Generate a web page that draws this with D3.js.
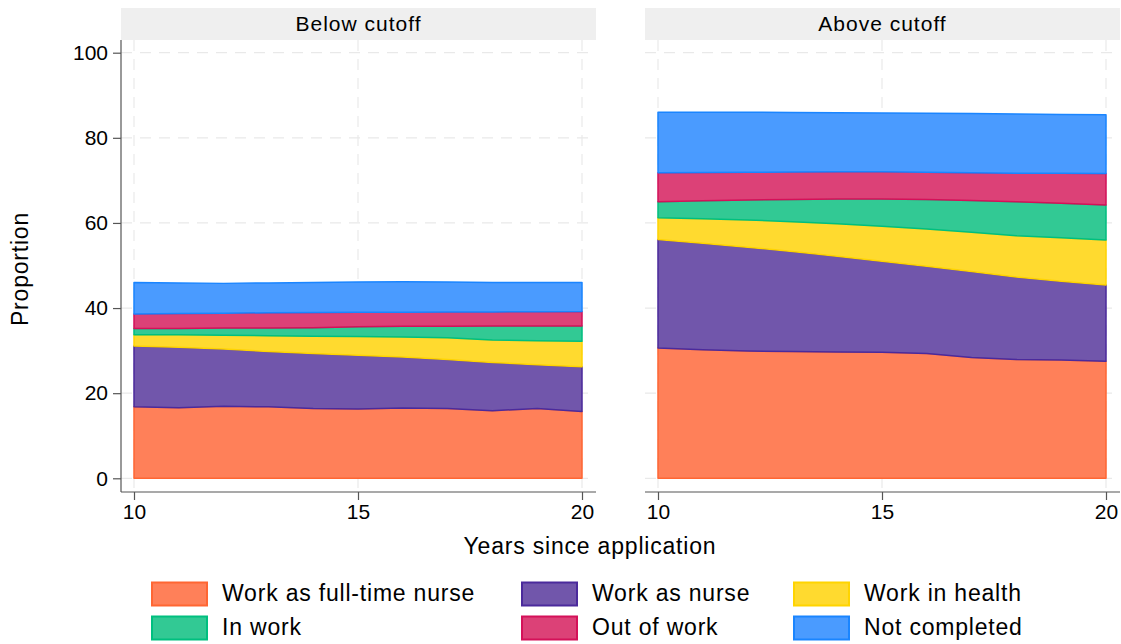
<!DOCTYPE html>
<html>
<head>
<meta charset="utf-8">
<script src="https://cdn.jsdelivr.net/npm/d3@7"></script>
<style>
  html, body { margin: 0; padding: 0; background: #fff; }
  svg { display: block; font-family: "Liberation Sans", Arial, Helvetica, sans-serif; }
</style>
</head>
<body>
<svg id="chart" width="1121" height="644"></svg>
<script>
// ---------------- data ----------------
const years = [10, 11, 12, 13, 14, 15, 16, 17, 18, 19, 20];
const seriesNames = ["Work as full-time nurse", "Work as nurse", "Work in health", "In work", "Out of work", "Not completed"];
const panelTitles = ["Below cutoff", "Above cutoff"];
const yTicks = [0, 20, 40, 60, 80, 100];
const xTicks = [10, 15, 20];

// Below cutoff (percent of applicants, per outcome)
const belowFullTimeNurse = [16.8, 16.6, 16.9, 16.8, 16.4, 16.3, 16.5, 16.4, 15.9, 16.4, 15.7];
const belowNurse         = [14.3, 14.2, 13.5, 13.0, 12.9, 12.6, 12.0, 11.5, 11.3, 10.3, 10.5];
const belowHealth        = [2.6, 2.9, 3.2, 3.7, 4.1, 4.4, 4.7, 5.1, 5.3, 5.6, 6.0];
const belowInWork        = [1.5, 1.5, 1.7, 1.8, 2.0, 2.3, 2.5, 2.7, 3.3, 3.5, 3.6];
const belowOutOfWork     = [3.4, 3.5, 3.5, 3.6, 3.55, 3.4, 3.3, 3.4, 3.3, 3.35, 3.4];
const belowNotCompleted  = [7.4, 7.2, 7.0, 7.0, 7.05, 7.1, 7.2, 7.0, 6.9, 6.85, 6.8];

// Above cutoff
const aboveFullTimeNurse = [30.6, 30.2, 29.9, 29.8, 29.7, 29.6, 29.3, 28.4, 27.9, 27.8, 27.5];
const aboveNurse         = [25.5, 25.0, 24.4, 23.5, 22.5, 21.4, 20.5, 20.2, 19.4, 18.5, 17.9];
const aboveHealth        = [5.1, 5.8, 6.4, 7.0, 7.6, 8.2, 8.8, 9.2, 9.7, 10.2, 10.6];
const aboveInWork        = [3.8, 4.2, 4.7, 5.2, 5.8, 6.4, 6.9, 7.5, 8.0, 8.1, 8.2];
const aboveOutOfWork     = [6.8, 6.65, 6.5, 6.45, 6.4, 6.4, 6.4, 6.5, 6.7, 7.05, 7.4];
const aboveNotCompleted  = [14.2, 14.15, 14.1, 14.0, 13.9, 13.85, 13.9, 13.9, 13.9, 13.85, 13.8];

const panelSeries = [
  [belowFullTimeNurse, belowNurse, belowHealth, belowInWork, belowOutOfWork, belowNotCompleted],
  [aboveFullTimeNurse, aboveNurse, aboveHealth, aboveInWork, aboveOutOfWork, aboveNotCompleted]
];

// ---------------- styles ----------------
const fills   = ["#FF8059", "#7156AB", "#FFDA2F", "#32C994", "#DC4177", "#4A9BFF"];
const strokes = ["#FF6633", "#4B2A9C", "#FFD400", "#00BF7F", "#D41159", "#1A85FF"];

const svg = d3.select("#chart");

const panelX = [[121, 596], [645, 1120]];
const plotTop = 40, plotBottom = 492;
const stripTop = 8;
const y = d3.scaleLinear().domain([0, 100]).range([478.3, 52.7]);

panelSeries.forEach((series, p) => {
  const [x0, x1] = panelX[p];
  const x = d3.scaleLinear().domain([10, 20]).range([x0 + 13, x1 - 14]);
  const g = svg.append("g");

  // strip
  g.append("rect").attr("x", x0).attr("y", stripTop).attr("width", x1 - x0).attr("height", plotTop - stripTop)
    .attr("fill", "#EFEFEF");
  g.append("text").attr("x", (x0 + x1) / 2).attr("y", (stripTop + plotTop) / 2 + 1)
    .attr("text-anchor", "middle").attr("dominant-baseline", "middle")
    .attr("font-size", 21).attr("letter-spacing", 1).attr("fill", "#000").text(panelTitles[p]);

  // gridlines
  g.append("g").selectAll("line").data(yTicks).join("line")
    .attr("x1", x0).attr("x2", x1).attr("y1", d => y(d)).attr("y2", d => y(d))
    .attr("stroke", "#E9E9E9").attr("stroke-width", 1.2).attr("stroke-dasharray", "11,8");
  g.append("g").selectAll("line").data(xTicks).join("line")
    .attr("x1", d => x(d)).attr("x2", d => x(d)).attr("y1", plotTop).attr("y2", plotBottom)
    .attr("stroke", "#E9E9E9").attr("stroke-width", 1.2).attr("stroke-dasharray", "11,8");

  // stacked areas
  const table = years.map((yr, i) => {
    const row = { year: yr };
    seriesNames.forEach((s, k) => row[s] = series[k][i]);
    return row;
  });
  const stacked = d3.stack().keys(seriesNames)(table);
  const area = d3.area().x(d => x(d.data.year)).y0(d => y(d[0])).y1(d => y(d[1]));
  g.append("g").selectAll("path").data(stacked).join("path")
    .attr("d", area)
    .attr("fill", (d, i) => fills[i])
    .attr("stroke", (d, i) => strokes[i])
    .attr("stroke-width", 1.5)
    .attr("stroke-linejoin", "round");

  // x axis
  const xAxis = d3.axisBottom(x).tickValues(xTicks).tickSize(8).tickPadding(4).tickFormat(d3.format("d"));
  const xa = g.append("g").attr("transform", `translate(0,${plotBottom})`).call(xAxis);
  xa.select(".domain").attr("d", `M${x0},0H${x1}`).attr("stroke", "#555").attr("stroke-width", 1.2);
  xa.selectAll(".tick line").attr("stroke", "#555").attr("stroke-width", 1.2);
  xa.selectAll(".tick text").attr("font-size", 21).attr("fill", "#000")
    .attr("font-family", "Liberation Sans, Arial, sans-serif");

  // y axis (left panel only)
  if (p === 0) {
    const yAxis = d3.axisLeft(y).tickValues(yTicks).tickSize(8).tickPadding(5);
    const ya = g.append("g").attr("transform", `translate(${x0},0)`).call(yAxis);
    ya.select(".domain").attr("d", `M0,${plotTop}V${plotBottom}`).attr("stroke", "#555").attr("stroke-width", 1.2);
    ya.selectAll(".tick line").attr("stroke", "#555").attr("stroke-width", 1.2);
    ya.selectAll(".tick text").attr("font-size", 21).attr("fill", "#000")
      .attr("font-family", "Liberation Sans, Arial, sans-serif");
  }
});

// axis titles
svg.append("text").attr("transform", "translate(22,269) rotate(-90)")
  .attr("text-anchor", "middle").attr("dominant-baseline", "middle")
  .attr("font-size", 23).attr("letter-spacing", 0.8).text("Proportion");
svg.append("text").attr("x", 590).attr("y", 548)
  .attr("text-anchor", "middle").attr("dominant-baseline", "middle")
  .attr("font-size", 23).attr("letter-spacing", 0.8).text("Years since application");

// legend
const legendCols = [152, 522, 794];
const legendRows = [594, 628];
const lg = svg.append("g").selectAll("g").data(seriesNames).join("g")
  .attr("transform", (d, i) => `translate(${legendCols[i % 3]},${legendRows[Math.floor(i / 3)]})`);
lg.append("rect").attr("x", 0).attr("y", -11.5).attr("width", 55).attr("height", 23)
  .attr("fill", (d, i) => fills[i]).attr("stroke", (d, i) => strokes[i]).attr("stroke-width", 2);
lg.append("text").attr("x", 70).attr("y", 1).attr("dominant-baseline", "middle")
  .attr("font-size", 23).attr("letter-spacing", 0.8).text(d => d);
</script>
</body>
</html>
